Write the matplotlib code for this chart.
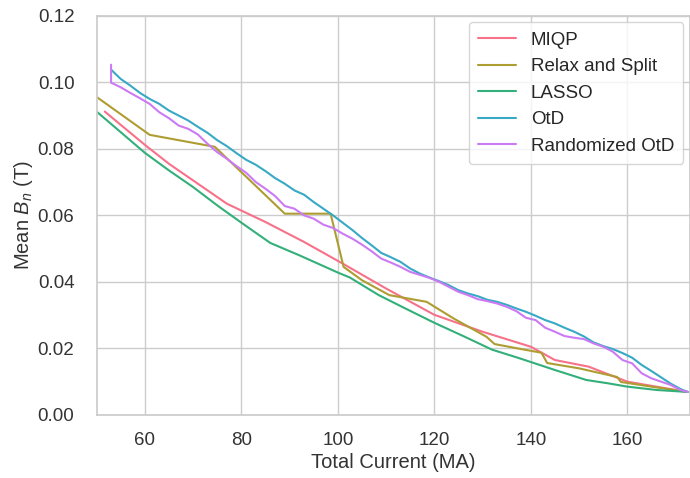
import matplotlib
matplotlib.use("Agg")
import matplotlib.pyplot as plt
import seaborn as sns

# mean normal field vs. total coil current for each solver
x_miqp = [51.7, 56, 60, 65, 70, 77, 85, 93, 101, 110, 120, 130, 140, 145, 152, 160, 166, 172.5]
y_miqp = [0.0912, 0.0860, 0.0812, 0.0755, 0.0705, 0.0635, 0.0580, 0.0520, 0.0455, 0.0380,
          0.0301, 0.0250, 0.0205, 0.0165, 0.0145, 0.0100, 0.0085, 0.0069]

x_rs = [50, 61, 74.5, 80, 89, 98.5, 101.2, 105, 110.7, 118.4, 124, 130.8, 132.5, 137.6,
        142.2, 143.4, 150, 157.9, 158.7, 165, 172.5]
y_rs = [0.0956, 0.0842, 0.0806, 0.0730, 0.0605, 0.0605, 0.0445, 0.0405, 0.0360, 0.0340,
        0.0290, 0.0235, 0.0213, 0.0199, 0.0187, 0.0156, 0.0140, 0.0114, 0.0099, 0.0085, 0.0069]

x_lasso = [50, 55, 60, 65, 70, 75, 80, 86, 92, 100, 102.5, 108.5, 114, 120, 126, 132,
           137.5, 145, 151.5, 156, 160, 166, 172.5]
y_lasso = [0.0912, 0.0850, 0.0788, 0.0735, 0.0685, 0.0630, 0.0578, 0.0517, 0.0480, 0.0428,
           0.0413, 0.0360, 0.0320, 0.0277, 0.0237, 0.0196, 0.0171, 0.0135, 0.0105, 0.0095,
           0.0085, 0.0075, 0.0069]

x_otd = [53, 55, 57, 59, 61, 63, 65, 67, 69, 71, 73, 75, 77, 79, 81, 83, 85, 87, 89, 91,
         93, 95, 97, 99, 101, 103, 105, 107, 109, 111, 113, 115, 117, 119, 121, 123, 125,
         127, 129, 131, 133, 135, 137, 139, 141, 143, 145, 147, 149, 151, 153, 155, 157,
         159, 161, 163, 165, 167, 169, 171, 172.5]
y_otd = [0.1038, 0.1010, 0.0990, 0.0968, 0.0950, 0.0935, 0.0915, 0.0900, 0.0885, 0.0866,
         0.0848, 0.0826, 0.0808, 0.0787, 0.0767, 0.0752, 0.0733, 0.0712, 0.0695, 0.0675,
         0.0662, 0.0640, 0.0620, 0.0600, 0.0578, 0.0556, 0.0532, 0.0510, 0.0487, 0.0474,
         0.0460, 0.0440, 0.0425, 0.0413, 0.0402, 0.0390, 0.0375, 0.0365, 0.0357, 0.0346,
         0.0340, 0.0331, 0.0320, 0.0310, 0.0298, 0.0285, 0.0275, 0.0262, 0.0250, 0.0236,
         0.0218, 0.0207, 0.0198, 0.0186, 0.0172, 0.0150, 0.0132, 0.0113, 0.0094, 0.0078,
         0.0069]

x_rotd = [53, 53, 55, 57, 59, 61, 63, 65, 67, 69, 71, 73, 75, 77, 79, 81, 83, 85, 87, 89,
          91, 93, 95, 97, 99, 101, 103, 105, 107, 109, 111, 113, 115, 117, 119, 121, 123,
          125, 127, 129, 131, 133, 135, 137, 139, 141, 143, 145, 147, 149, 151, 153, 155,
          157, 159, 161, 163, 165, 167, 169, 171, 172.5]
y_rotd = [0.1053, 0.0999, 0.0985, 0.0968, 0.0952, 0.0935, 0.0910, 0.0892, 0.0870, 0.0860,
          0.0843, 0.0815, 0.0790, 0.0770, 0.0748, 0.0728, 0.0700, 0.0680, 0.0658, 0.0628,
          0.0620, 0.0600, 0.0590, 0.0572, 0.0562, 0.0545, 0.0530, 0.0512, 0.0492, 0.0470,
          0.0458, 0.0445, 0.0430, 0.0421, 0.0412, 0.0400, 0.0385, 0.0370, 0.0360, 0.0348,
          0.0342, 0.0335, 0.0325, 0.0312, 0.0292, 0.0285, 0.0262, 0.0250, 0.0237, 0.0232,
          0.0228, 0.0215, 0.0205, 0.0190, 0.0165, 0.0155, 0.0125, 0.0110, 0.0100, 0.0090,
          0.0075, 0.0069]

labels = ["MIQP", "Relax and Split", "LASSO", "OtD", "Randomized OtD"]

sns.set_theme(style="whitegrid")
plt.rcParams["font.family"] = ["Liberation Sans", "DejaVu Sans"]
plt.rcParams["mathtext.fontset"] = "custom"
plt.rcParams["mathtext.rm"] = "Liberation Sans"
plt.rcParams["mathtext.it"] = "Liberation Sans:italic"

colors = sns.color_palette("husl", 5)

fig = plt.figure(figsize=(6.9, 4.78), dpi=100)
ax = fig.add_axes([0.140, 0.132, 0.860, 0.835])

series = [(x_miqp, y_miqp), (x_rs, y_rs), (x_lasso, y_lasso), (x_otd, y_otd), (x_rotd, y_rotd)]
for (xs, ys), lab, c in zip(series, labels, colors):
    ax.plot(xs, ys, color=c, lw=1.5, label=lab)

ax.set_xlim(50, 173)
ax.set_ylim(0, 0.12)
ax.set_xticks([60, 80, 100, 120, 140, 160])
ax.set_yticks([0, 0.02, 0.04, 0.06, 0.08, 0.10, 0.12])
ax.set_yticklabels(["0.00", "0.02", "0.04", "0.06", "0.08", "0.10", "0.12"])
ax.tick_params(axis="both", labelsize=13.5, colors="#333333")
ax.tick_params(axis="y", pad=10)
ax.tick_params(axis="x", pad=6)
ax.set_xlabel("Total Current (MA)", fontsize=14.5, labelpad=3, color="#333333")
ax.set_ylabel("Mean $B_n$ (T)", fontsize=14.5, labelpad=2, color="#333333")
ax.legend(loc="upper right", fontsize=13.5, frameon=True, borderpad=0.5,
          handlelength=2.0, labelspacing=0.5, borderaxespad=0.35)

fig.savefig("out.png", dpi=100)
